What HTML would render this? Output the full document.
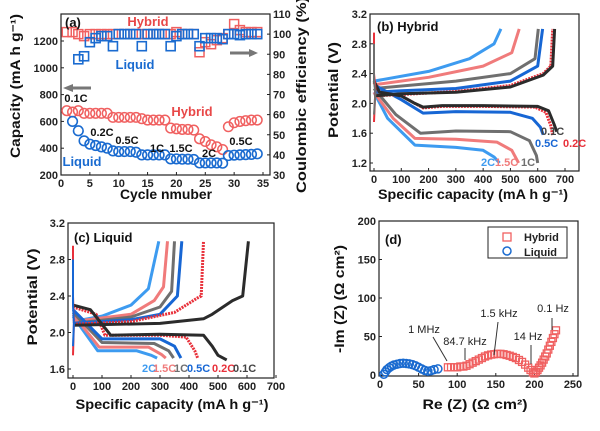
<!DOCTYPE html>
<html><head><meta charset="utf-8"><style>
body{margin:0;background:#fff}
svg{display:block;font-family:"Liberation Sans",Arial,sans-serif}
.t{font-weight:bold;font-size:11px;fill:#222}
.ti{font-weight:bold;font-size:13px;fill:#111}
.tt{font-weight:bold;font-size:14px;fill:#111}
</style></head><body>
<svg id="c" width="600" height="431" viewBox="0 0 600 431"></svg>
<script>
// ---- Panel (a) data ----
const cyclesH=[1,2,3,4,5,6,7,8,9,10,11,12,13,14,15,16,17,18,19,20,21,22,23,24,25,26,27,28,29,30,31,32,33,34];
const capHybrid=[680,670,680,660,660,660,660,660,630,630,630,630,630,620,610,610,610,610,550,545,540,540,535,470,450,425,410,390,560,590,600,605,610,610];
const cyclesL=[2,3,4,5,6,7,8,9,10,11,12,13,14,15,16,17,18,19,20,21,22,23,24,25,26,27,28,29,30,31,32,33,34];
const capLiquid=[600,530,455,430,420,410,400,380,375,375,375,370,350,350,350,350,350,320,320,318,318,316,290,290,290,290,288,345,348,350,352,354,358];
const ceHybrid=[101,101,100,99,100,100,100,100,100,100,100,100,100,100,100,100,100,100,100,101,100,100,100,91,96,95,97,98,100,105,102,101,101,101];
const ceLiquid=[null,87.5,89,96,98,99,99,94,100,100,100,100,94,100,100,100,100,94,99,100,100,100,94,98,98,98,97.5,100,100,99.5,100,100,100];
// ---- Panel (b) hybrid profiles [capacity, voltage] ----
const rates=["0.1C","0.2C","0.5C","1C","1.5C","2C"];
const colors=["#2b2b2b","#e8303a","#1766d4","#6f6f6f","#f07b7b","#3d9bf0"];
const bDis=[
[[0,2.3],[20,2.15],[100,2.1],[150,2.0],[180,1.95],[250,1.97],[400,1.97],[600,1.96],[640,1.9],[660,1.72],[670,1.62]],
[[0,2.28],[20,2.15],[100,2.1],[150,2.0],[180,1.94],[250,1.96],[400,1.96],[590,1.95],[630,1.88],[648,1.7],[655,1.57]],
[[0,2.25],[100,2.05],[180,1.87],[300,1.89],[500,1.88],[580,1.8],[610,1.68],[620,1.58]],
[[0,2.2],[80,1.85],[170,1.6],[300,1.63],[500,1.62],[570,1.5],[595,1.3],[600,1.2]],
[[0,2.15],[70,1.8],[150,1.53],[300,1.52],[450,1.48],[505,1.37],[530,1.2]],
[[0,2.15],[50,1.8],[150,1.44],[300,1.41],[400,1.37],[440,1.28],[460,1.2]]];
const bCha=[
[[0,2.1],[100,2.13],[300,2.15],[500,2.22],[620,2.38],[655,2.5],[662,3.0]],
[[0,2.1],[100,2.12],[300,2.16],[500,2.24],[620,2.4],[648,2.5],[655,3.0]],
[[0,2.15],[100,2.17],[300,2.2],[500,2.3],[600,2.5],[618,3.0]],
[[0,2.2],[300,2.3],[500,2.4],[590,2.6],[602,3.0]],
[[0,2.25],[200,2.35],[400,2.5],[505,2.68],[532,3.0]],
[[0,2.3],[200,2.43],[350,2.6],[440,2.8],[465,3.0]]];
// ---- Panel (c) liquid profiles ----
const cDis=[
[[0,2.3],[60,2.25],[130,1.97],[300,1.98],[450,1.97],[480,1.85],[500,1.75],[530,1.7]],
[[0,2.28],[80,2.2],[110,1.97],[300,1.97],[390,1.95],[420,1.8],[430,1.72]],
[[0,2.25],[100,1.93],[300,1.93],[350,1.85],[372,1.72]],
[[0,2.22],[100,1.89],[280,1.88],[330,1.8],[347,1.72]],
[[0,2.2],[90,1.84],[260,1.84],[305,1.76],[320,1.72]],
[[0,2.18],[85,1.8],[220,1.8],[270,1.75],[290,1.72]]];
const cCha=[
[[0,2.08],[300,2.1],[450,2.15],[480,2.2],[550,2.35],[585,2.4],[605,3.0]],
[[0,2.09],[200,2.12],[350,2.22],[430,2.38],[442,2.4],[450,3.0]],
[[0,2.1],[200,2.14],[300,2.2],[360,2.4],[375,3.0]],
[[0,2.1],[200,2.17],[300,2.28],[340,2.45],[350,3.0]],
[[0,2.12],[200,2.2],[280,2.35],[312,2.5],[326,3.0]],
[[0,2.12],[100,2.18],[200,2.3],[260,2.48],[296,3.0]]];
// ---- Panel (d) EIS ----
const reH=[88,92,96,100,104,108,112,116,120,124,128,132,136,140,144,148,152,156,160,164,168,172,176,180,184,188,192,195,198,200,202,204,206,208,210,212,214,216,218,220,222,224,226,228];
const imH=[10,10,10,10,11,11,12,14,16,18,20,22,24,25.5,26.5,27,27.5,27.5,27,26,25,23.5,22,19.5,17,13.5,9.5,6.5,3.5,2,4,6.5,9.5,12.5,16,20,24,28,33,38,43,48,53,58];
const reL=[5,7,9,12,15,18,22,26,30,34,38,42,46,50,54,58,62,66,70,75];
const imL=[1,4,7,9.5,11.5,13,14,15,15.2,15,14.5,13.5,12,10,8,6,5,5.5,7,8];

const S=document.getElementById('c');const NS='http://www.w3.org/2000/svg';
function E(tag,at,txt,par){const e=document.createElementNS(NS,tag);for(const k in at)e.setAttribute(k,at[k]);if(txt!=null)e.textContent=txt;(par||S).appendChild(e);return e;}
function lin(d0,d1,r0,r1){return v=>r0+(v-d0)*(r1-r0)/(d1-d0);}
function box(x0,y0,x1,y1,name){const r=E('rect',{x:x0,y:y0,width:x1-x0,height:y1-y0,fill:'none',stroke:'#222','stroke-width':1.2});

}
function xt(sx,vals,y,lab){vals.forEach(v=>{E('line',{x1:sx(v),x2:sx(v),y1:y,y2:y-3,stroke:'#222'});const t=E('text',{x:sx(v),y:y+12,'text-anchor':'middle',class:'t'},lab?lab(v):v);

});}
function yt(sy,vals,x,side,fmt){vals.forEach(v=>{E('line',{x1:x,x2:x+(side<0?3:-3),y1:sy(v),y2:sy(v),stroke:'#222'});const t=E('text',{x:x+(side<0?-3:3),y:sy(v)+4,'text-anchor':side<0?'end':'start',class:'t'},fmt?fmt(v):v);

});}
function txt(x,y,s,cls,fill,name,rot,anchor,len){const a={x:x,y:y,class:cls,'text-anchor':anchor||'middle'};if(fill)a.fill=fill;if(rot)a.transform=`rotate(-90 ${x} ${y})`;if(len){a.textLength=len;a.lengthAdjust='spacingAndGlyphs';}const t=E('text',a,s);if(fill)t.style.fill=fill;

return t;}
function path(pts,sx,sy,col,w,dash,name){const d=pts.map((p,i)=>(i?'L':'M')+sx(p[0]).toFixed(1)+','+sy(p[1]).toFixed(1)).join('');const a={d:d,fill:'none',stroke:col,'stroke-width':w,'stroke-linejoin':'round'};if(dash)a['stroke-dasharray']=dash;const p=E('path',a);

}

// ===== Panel (a) =====
{const sx=lin(0,35,61,263),sy=lin(200,1200,175,41),sr=lin(30,110,175,14);
box(61,14,270,175,'panel-a-frame');
xt(sx,[0,5,10,15,20,25,30,35],175);
yt(sy,[200,400,600,800,1000,1200],61,-1);
yt(sr,[30,40,50,60,70,80,90,100,110],270,1);
cyclesH.forEach((c,i)=>{const e=E('rect',{x:sx(c)-4.5,y:sr(ceHybrid[i])-4.5,width:9,height:9,fill:'none',stroke:'#f06060','stroke-width':1.5});

});
cyclesL.forEach((c,i)=>{if(ceLiquid[i]==null)return;const e=E('rect',{x:sx(c)-4.5,y:sr(ceLiquid[i])-4.5,width:9,height:9,fill:'none',stroke:'#1a6bd0','stroke-width':1.6});

});
cyclesH.forEach((c,i)=>{const e=E('circle',{cx:sx(c),cy:sy(capHybrid[i]),r:4.8,fill:'none',stroke:'#f06060','stroke-width':1.5});

});
cyclesL.forEach((c,i)=>{const e=E('circle',{cx:sx(c),cy:sy(capLiquid[i]),r:4.8,fill:'none',stroke:'#1a6bd0','stroke-width':1.6});

});
E('path',{d:'M72,88 L91,88',stroke:'#777','stroke-width':3});E('path',{d:'M63,88 L73,84 L73,92Z',fill:'#777'});
E('path',{d:'M230,53 L250,53',stroke:'#777','stroke-width':3});E('path',{d:'M258,53 L249,49 L249,57Z',fill:'#777'});
txt(65,27,'(a)','ti',null,'panel-a-label',0,'start');
txt(148,26,'Hybrid','ti','#e84848','hybrid-ce-label');
txt(135,69,'Liquid','ti','#1a6bd0','liquid-ce-label');
txt(192,116,'Hybrid','ti','#e84848','hybrid-capacity-label');
txt(82,166,'Liquid','ti','#1a6bd0','liquid-capacity-label');
[['0.1C',76,102],['0.2C',102,136],['0.5C',127,144],['1C',157,152],['1.5C',181,152],['2C',209,157],['0.5C',241,145]].forEach(a=>txt(a[1],a[2],a[0],'t','#111','rate-label'));
txt(166,199,'Cycle nmuber','tt',null,'x-axis-title',0,'middle',92);
txt(20,86,'Capacity (mA h g⁻¹)','tt',null,'y-axis-title-left',1,'middle',144);
txt(306,95,'Coulombic efficiency (%)','tt',null,'y-axis-title-right',1,'middle',196);}

// ===== Panel (b) =====
{const sx=lin(0,700,374,565),sy=lin(1.2,3.2,163,14);
box(370,14,579,171,'panel-b-frame');
xt(sx,[0,100,200,300,400,500,600,700],171);
yt(sy,[1.2,1.6,2.0,2.4,2.8,3.2],370,-1,v=>v.toFixed(1));
for(let i=5;i>=0;i--){path(bDis[i],sx,sy,colors[i],3,i==1?'2 1':null,'hybrid-discharge-'+rates[i]);path(bCha[i],sx,sy,colors[i],3,i==1?'2 1':null,'hybrid-charge-'+rates[i]);}
path([[0,2.95],[0,2.4],[5,2.2],[0,1.75]],sx,sy,'#e8303a',2,null,'hybrid-initial-spike');
path([[0,2.8],[0,2.3],[5,2.15],[0,1.85]],sx,sy,'#6f6f6f',2,null,'hybrid-initial-spike-2');
txt(377,31,'(b) Hybrid','ti',null,'panel-b-label',0,'start');
txt(541,135,'0.1C','t','#444','label-0.1C',0,'start');txt(563,147,'0.2C','t','#e8303a','label-0.2C',0,'start');
txt(535,147,'0.5C','t','#1766d4','label-0.5C',0,'start');txt(521,166,'1C','t','#6f6f6f','label-1C',0,'start');
txt(495,166,'1.5C','t','#f07b7b','label-1.5C',0,'start');txt(481,166,'2C','t','#3d9bf0','label-2C',0,'start');
txt(473,199,'Specific capacity (mA h g⁻¹)','tt',null,'x-axis-title',0,'middle',190);
txt(338,90,'Potential (V)','tt',null,'y-axis-title',1,'middle',96);}

// ===== Panel (c) =====
{const sx=lin(0,700,73,276),sy=lin(1.6,3.2,369,223);
box(68,223,274,378,'panel-c-frame');
xt(sx,[0,100,200,300,400,500,600,700],378);
yt(sy,[1.6,2.0,2.4,2.8,3.2],68,-1,v=>v.toFixed(1));
for(let i=5;i>=0;i--){path(cDis[i],sx,sy,colors[i],3,i==1?'2 1':null,'liquid-discharge-'+rates[i]);path(cCha[i],sx,sy,colors[i],3,i==1?'2 1':null,'liquid-charge-'+rates[i]);}
path([[0,2.95],[0,2.4],[3,2.1],[0,1.75]],sx,sy,'#e8303a',2,null,'liquid-initial-spike');
path([[0,2.8],[0,2.3],[3,2.1],[0,1.85]],sx,sy,'#1766d4',2,null,'liquid-initial-spike-2');
txt(74,242,'(c) Liquid','ti',null,'panel-c-label',0,'start');
[['2C',142,'#3d9bf0'],['1.5C',153,'#f07b7b'],['1C',174,'#6f6f6f'],['0.5C',187,'#1766d4'],['0.2C',212,'#e8303a'],['0.1C',233,'#444']].forEach(a=>txt(a[1],372,a[0],'t',a[2],'label-'+a[0],0,'start'));
txt(172,409,'Specific capacity (mA h g⁻¹)','tt',null,'x-axis-title',0,'middle',193);
txt(37,297,'Potential (V)','tt',null,'y-axis-title',1,'middle',97);}

// ===== Panel (d) =====
{const sx=lin(0,250,380,573),sy=lin(0,200,375,221);
box(379,221,578,376,'panel-d-frame');
xt(sx,[0,50,100,150,200,250],376);
yt(sy,[0,50,100,150,200],379,-1);
reH.forEach((r,i)=>{const e=E('rect',{x:sx(r)-3.5,y:sy(imH[i])-3.5,width:7,height:7,fill:'none',stroke:'#f06060','stroke-width':1.3});

});
reL.forEach((r,i)=>{const e=E('circle',{cx:sx(r),cy:sy(imL[i]),r:4,fill:'none',stroke:'#1a6bd0','stroke-width':1.5});

});
[[433,337,447,361],[465,348,465,360],[498,322,494,355],[531,345,531,364],[552,318,552,330]].forEach(l=>E('line',{x1:l[0],y1:l[1],x2:l[2],y2:l[3],stroke:'#333','stroke-width':1}));
[['1 MHz',424,333],['84.7 kHz',465,345],['1.5 kHz',499,317],['14 Hz',528,340],['0.1 Hz',553,312]].forEach(a=>txt(a[1],a[2],a[0],'t','#222','freq-annotation').style.fontWeight='normal');
E('rect',{x:488,y:227,width:79,height:31,fill:'#fff',stroke:'#222'});
E('rect',{x:503,y:233,width:8,height:8,fill:'none',stroke:'#f06060','stroke-width':1.3});
E('circle',{cx:507,cy:251,r:4,fill:'none',stroke:'#1a6bd0','stroke-width':1.5});
txt(524,241,'Hybrid','t',null,'legend-hybrid',0,'start');txt(524,256,'Liquid','t',null,'legend-liquid',0,'start');
txt(385,244,'(d)','ti',null,'panel-d-label',0,'start');
txt(475,409,'Re (Z) (Ω cm²)','tt',null,'x-axis-title',0,'middle',105);
txt(344,299,'-Im (Z) (Ω cm²)','tt',null,'y-axis-title',1,'middle',108);}
</script>
</body></html>
